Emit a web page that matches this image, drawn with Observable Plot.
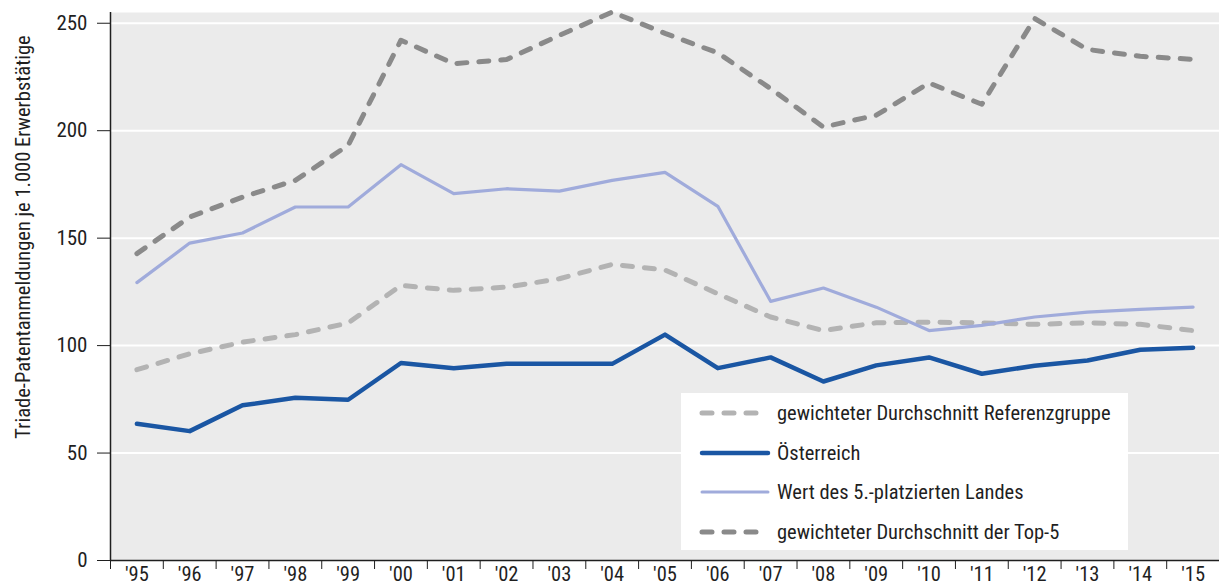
<!DOCTYPE html>
<html><head><meta charset="utf-8">
<script src="https://cdn.jsdelivr.net/npm/d3@7"></script>
<script src="https://cdn.jsdelivr.net/npm/@observablehq/plot@0.6"></script>
<style>
body{margin:0;background:#fff;}
#wrap{position:relative;width:1219px;height:587px;font-family:"Roboto Condensed","Roboto",sans-serif;font-stretch:condensed;color:#1f1f1f;}
#ytitle{position:absolute;left:23px;top:237px;transform:translate(-50%,-50%) rotate(-90deg);white-space:nowrap;font-size:20.5px;}
#legend{position:absolute;left:681px;top:393px;width:447px;height:157px;background:#fff;}
.row{position:absolute;left:18px;display:flex;align-items:center;font-size:20.5px;height:30px;white-space:nowrap;}
.row svg{margin-right:6px;}
</style>
</head><body>
<div id="wrap"><div id="chart"></div><div id="ytitle"></div><div id="legend"></div></div>
<script>
const years = [1995,1996,1997,1998,1999,2000,2001,2002,2003,2004,2005,2006,2007,2008,2009,2010,2011,2012,2013,2014,2015];
const yearLabels = ["'95","'96","'97","'98","'99","'00","'01","'02","'03","'04","'05","'06","'07","'08","'09","'10","'11","'12","'13","'14","'15"];
const top5 = [142.8,159.8,169.1,176.9,193.2,242.1,231.2,233.1,244.4,255.2,245.3,236.2,219.6,201.7,207.2,222.2,212.3,252.2,237.8,234.6,233.2];
const fifth = [129.3,147.7,152.4,164.5,164.5,184.2,170.7,173.0,171.9,176.9,180.6,164.8,120.6,126.8,117.9,107.0,109.4,113.3,115.6,116.9,117.9];
const refGroup = [88.8,96.2,101.6,105.1,110.5,128.0,125.7,127.2,131.1,137.8,135.2,124.1,113.3,107.0,110.6,110.9,110.6,109.9,110.6,109.9,107.0];
const austria = [63.6,60.2,72.2,75.7,74.8,91.9,89.5,91.5,91.5,91.5,105.1,89.5,94.5,83.3,90.8,94.5,86.9,90.6,93.1,98.1,99.0];
const yTicks = [0,50,100,150,200,250];
const yTitle = "Triade-Patentanmeldungen je 1.000 Erwerbstätige";
const seriesNames = ["gewichteter Durchschnitt Referenzgruppe","Österreich","Wert des 5.-platzierten Landes","gewichteter Durchschnitt der Top-5"];

const C = {ref:"#b3b3b3", at:"#1a56a3", fifth:"#a0abdb", top:"#8a8a8a"};
const rows = (vals) => years.map((y,i)=>({year:y, value:vals[i]}));
const boundaries = years.map(y=>y-0.5).concat([years[years.length-1]+0.5]);

const chart = Plot.plot({
  width:1219, height:587,
  marginLeft:110, marginRight:0, marginTop:12, marginBottom:27,
  style:{fontFamily:'"Roboto Condensed","Roboto",sans-serif', fontStretch:"condensed", color:"#1f1f1f", background:"#fff"},
  x:{domain:[years[0]-0.5, years[years.length-1]+0.5]},
  y:{domain:[0,255]},
  marks:[
    Plot.frame({fill:"#ebebeb", stroke:"none"}),
    Plot.gridY(yTicks.slice(1), {stroke:"#fff", strokeOpacity:1, strokeWidth:2}),
    Plot.line(rows(top5), {x:"year", y:"value", stroke:C.top, strokeWidth:5, strokeDasharray:"10 12", strokeLinecap:"round", strokeLinejoin:"round"}),
    Plot.line(rows(refGroup), {x:"year", y:"value", stroke:C.ref, strokeWidth:5, strokeDasharray:"10 12", strokeLinecap:"round", strokeLinejoin:"round"}),
    Plot.line(rows(fifth), {x:"year", y:"value", stroke:C.fifth, strokeWidth:3.2, strokeLinejoin:"round"}),
    Plot.line(rows(austria), {x:"year", y:"value", stroke:C.at, strokeWidth:4.5, strokeLinejoin:"round", strokeLinecap:"round"}),
    Plot.ruleY([0], {stroke:"#1f1f1f", strokeWidth:1.5}),
    Plot.ruleX([years[0]-0.5], {stroke:"#1f1f1f", strokeWidth:1.5}),
    Plot.axisY(yTicks, {tickSize:13, tickPadding:10, fontSize:21, label:null, stroke:"#1f1f1f"}),
    Plot.axisX(boundaries, {tickSize:9, tickFormat:()=>"", label:null, stroke:"#1f1f1f"}),
    Plot.axisX(years, {tickSize:0, tickPadding:6, fontSize:20.5, label:null, tickFormat:d=>yearLabels[years.indexOf(d)]})
  ]
});
document.getElementById("chart").append(chart);
document.getElementById("ytitle").textContent = yTitle;

const legendStyles = [
  {color:C.ref, w:5, dash:"10 12", cap:"round"},
  {color:C.at, w:4.5, dash:null, cap:"round"},
  {color:C.fifth, w:3, dash:null, cap:"round"},
  {color:C.top, w:5, dash:"10 12", cap:"round"}
];
const leg = document.getElementById("legend");
seriesNames.forEach((name,i)=>{
  const s = legendStyles[i];
  const r = document.createElement("div");
  r.className="row";
  r.style.top = (5 + i*39.5) + "px";
  r.innerHTML = `<svg width="72" height="10"><line x1="3" y1="5" x2="69" y2="5" stroke="${s.color}" stroke-width="${s.w}" ${s.dash?`stroke-dasharray="${s.dash}"`:""} stroke-linecap="${s.cap}"/></svg><span>${name}</span>`;
  leg.append(r);
});
</script>
</body></html>
